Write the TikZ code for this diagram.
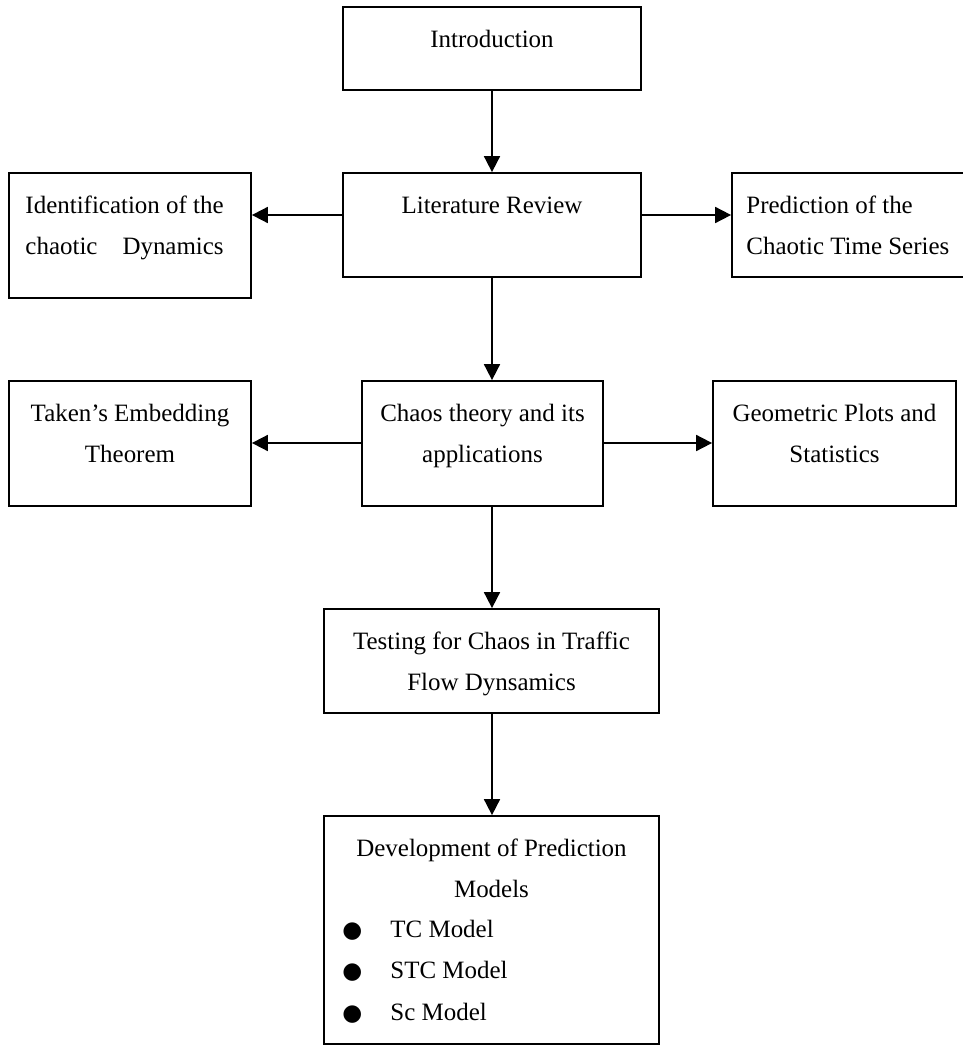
\documentclass[tikz,border=0pt]{standalone}
\usepackage{fontspec}
\setmainfont{Liberation Serif}
\newfontfamily\symfont{DejaVu Sans}
\usetikzlibrary{arrows.meta}
\tikzset{>={Triangle[length=0.32cm,width=0.32cm]}}
\tikzset{
  box/.style={draw, line width=1pt, inner sep=0pt},
  txt/.style={anchor=base, inner sep=0pt, align=center, font=\fontsize{14.2}{23.6}\selectfont},
  link/.style={->, line width=1pt}
}
\newcommand{\bitem}[1]{\makebox[0.96cm][l]{\symfont\fontsize{13}{23.6}\selectfont ●}#1}

\begin{document}
\begin{tikzpicture}
  \useasboundingbox (0,0) rectangle (19.24,-20.9);

  % 方框
  \node[box, minimum width=5.96cm, minimum height=1.66cm] (intro) at (9.84,-0.97) {};
  \node[box, minimum width=5.96cm, minimum height=2.08cm] (lit) at (9.84,-4.50) {};
  \node[box, minimum width=4.84cm, minimum height=2.50cm] (ident) at (2.60,-4.71) {};
  \node[box, minimum width=4.86cm, minimum height=2.08cm] (pred) at (17.07,-4.50) {};
  \node[box, minimum width=4.84cm, minimum height=2.50cm] (taken) at (2.60,-8.87) {};
  \node[box, minimum width=4.82cm, minimum height=2.50cm] (chaos) at (9.65,-8.87) {};
  \node[box, minimum width=4.86cm, minimum height=2.50cm] (geom) at (16.69,-8.87) {};
  \node[box, minimum width=6.70cm, minimum height=2.08cm] (test) at (9.83,-13.22) {};
  \node[box, minimum width=6.70cm, minimum height=4.56cm] (dev) at (9.83,-18.60) {};

  % 文字（基线取最后一行）
  \node[txt, yshift=-0.82cm] (introtxt) at (intro.north) {Introduction};
  \node[txt, yshift=-0.82cm] (littxt) at (lit.north) {Literature Review};
  \node[txt, anchor=base west, align=left, xshift=0.34cm, yshift=-1.65cm] (identtxt) at (ident.north west)
    {Identification of the\\chaotic\hspace{0.5cm}Dynamics};
  \node[txt, anchor=base west, align=left, xshift=0.30cm, yshift=-1.65cm] (predtxt) at (pred.north west)
    {Prediction of the\\Chaotic Time Series};
  \node[txt, yshift=-1.65cm] (takentxt) at (taken.north) {Taken’s Embedding\\Theorem};
  \node[txt, yshift=-1.65cm] (chaostxt) at (chaos.north) {Chaos theory and its\\applications};
  \node[txt, yshift=-1.65cm] (geomtxt) at (geom.north) {Geometric Plots and\\Statistics};
  \node[txt, yshift=-1.65cm] (testtxt) at (test.north) {Testing for Chaos in Traffic\\Flow Dynsamics};
  \node[txt, yshift=-1.65cm] (devtxt) at (dev.north) {Development of Prediction\\Models};
  \node[txt, anchor=base west, align=left, xshift=0.38cm, yshift=-4.10cm] (devlist) at (dev.north west)
    {\bitem{TC Model}\\\bitem{STC Model}\\\bitem{Sc Model}};

  % 箭头
  \coordinate (litrow) at (0,-4.30);
  \coordinate (chaosrow) at (0,-8.86);
  \draw[link] (intro.south) -- (lit.north);
  \draw[link] (lit.south) -- (lit.south |- chaos.north);
  \draw[link] (lit.west |- litrow) -- (ident.east |- litrow);
  \draw[link] (lit.east |- litrow) -- (pred.west |- litrow);
  \draw[link] (chaos.west |- chaosrow) -- (taken.east |- chaosrow);
  \draw[link] (chaos.east |- chaosrow) -- (geom.west |- chaosrow);
  \draw[link] (lit.south |- chaos.south) -- (lit.south |- test.north);
  \draw[link] (lit.south |- test.south) -- (lit.south |- dev.north);
\end{tikzpicture}
\end{document}
